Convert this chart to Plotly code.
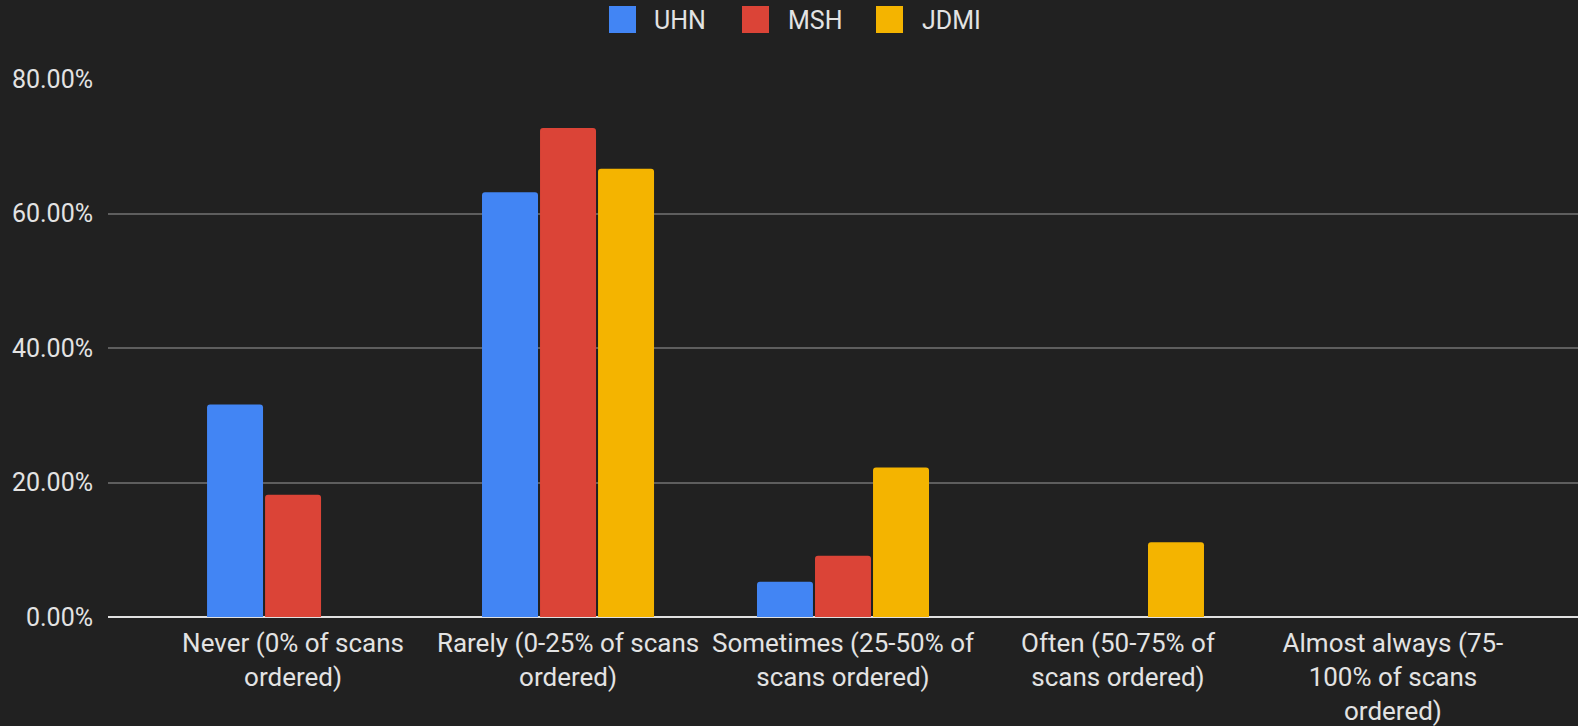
import plotly.graph_objects as go

categories = [
    "Never (0% of scans<br>ordered)",
    "Rarely (0-25% of scans<br>ordered)",
    "Sometimes (25-50% of<br>scans ordered)",
    "Often (50-75% of<br>scans ordered)",
    "Almost always (75-<br>100% of scans<br>ordered)",
]
uhn = [0.3158, 0.6316, 0.0526, 0.0, 0.0]
msh = [0.1818, 0.7273, 0.0909, 0.0, 0.0]
jdmi = [0.0, 0.6667, 0.2222, 0.1111, 0.0]
series_names = ["UHN", "MSH", "JDMI"]
colors = ["#4285F4", "#DB4437", "#F4B400"]
y_ticks = [0, 0.2, 0.4, 0.6, 0.8]

BG = "#212121"
TXT = "#E3E3E3"
FONT = "Roboto"

fig = go.Figure()
for name, vals, col in zip(series_names, [uhn, msh, jdmi], colors):
    fig.add_trace(go.Bar(x=list(range(len(categories))), y=vals, name=name,
                         marker=dict(color=col, line=dict(width=0)),
                         showlegend=False))

# custom legend (large squares) at top center
legend_items = [(609, 654), (742, 788), (876, 922)]
W = 1578.0
for (sx, tx), name, col in zip(legend_items, series_names, colors):
    fig.add_shape(type="rect", xref="paper", yref="paper",
                  x0=(sx - 108) / (W - 108), x1=(sx + 27 - 108) / (W - 108),
                  y0=(617 - 33) / 538.0, y1=(617 - 6) / 538.0,
                  fillcolor=col, line=dict(width=0), layer="above")
    fig.add_annotation(xref="paper", yref="paper",
                       x=(tx - 108) / (W - 108), y=(617 - 20) / 538.0,
                       text=name, showarrow=False, xanchor="left", yanchor="middle",
                       xshift=-2,
                       font=dict(family=FONT, size=25, color=TXT))

fig.update_layout(
    width=1578, height=726,
    paper_bgcolor=BG, plot_bgcolor=BG,
    margin=dict(l=108, r=0, t=79, b=109),
    barmode="group", bargap=0.367, bargroupgap=0.035,
    barcornerradius=3,
    font=dict(family=FONT, size=25, color=TXT),
    showlegend=False,
)
fig.update_xaxes(
    tickmode="array", tickvals=list(range(len(categories))), ticktext=categories,
    range=[-0.673, 4.673], showgrid=False, zeroline=False, showline=False,
    ticks="", ticklabelstandoff=8,
    tickfont=dict(family=FONT, size=26, color=TXT),
)
fig.update_yaxes(
    range=[0, 0.8], tickvals=y_ticks, tickformat=".2%",
    showgrid=True, gridcolor="#5E5E5E", gridwidth=2,
    zeroline=True, zerolinecolor="#E0E0E0", zerolinewidth=2,
    showline=False, ticks="", ticklabelstandoff=14,
    tickfont=dict(family=FONT, size=25, color=TXT),
)

fig.write_html("out.html",
               config={"displayModeBar": False},
               post_script="document.body.style.margin='0';document.body.style.overflow='hidden';")
